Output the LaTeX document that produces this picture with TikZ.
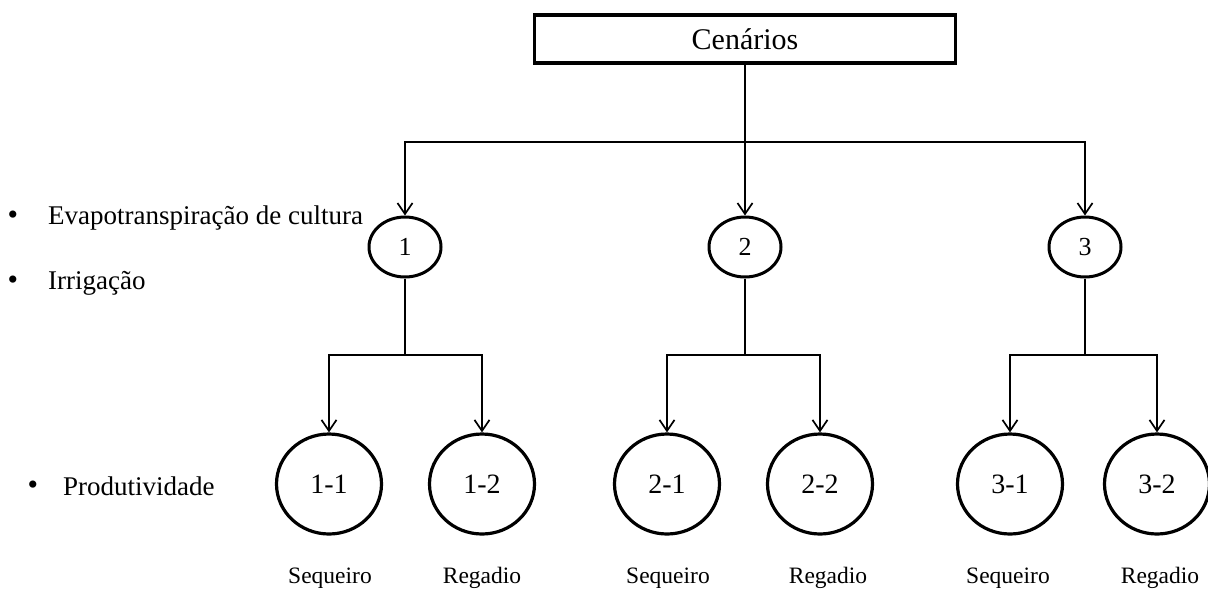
\documentclass[tikz,border=0pt]{standalone}
\usepackage{fontspec}
\setmainfont{Liberation Serif}
\usetikzlibrary{arrows.meta,shapes.geometric}
\begin{document}
\begin{tikzpicture}[x=1pt,y=-1pt,
  conn/.style={line width=1.7pt},
  arr/.style={conn,-{Straight Barb[length=11pt,width=15pt]}},
  topbox/.style={draw,line width=3.4pt,minimum width=421pt,minimum height=48pt,inner sep=0pt,font=\fontsize{30}{34}\selectfont},
  small/.style={draw,ellipse,line width=3pt,minimum width=72pt,minimum height=60pt,inner sep=0pt,font=\fontsize{26}{30}\selectfont},
  big/.style={draw,ellipse,line width=3.2pt,minimum width=105pt,minimum height=100pt,inner sep=0pt,font=\fontsize{28}{30}\selectfont},
  lab/.style={font=\fontsize{23.5}{26}\selectfont,inner sep=0pt},
  side/.style={font=\fontsize{27}{30}\selectfont,inner sep=0pt,anchor=west},
  bul/.style={font=\fontsize{30}{32}\selectfont,inner sep=0pt}
]
\useasboundingbox (0,0) rectangle (1208,590);
\node[topbox] (cen) at (745,39) {Cenários};
\node[small] (c1) at (405,247) {1};
\node[small] (c2) at (745,247) {2};
\node[small] (c3) at (1085,247) {3};
\node[big] (c11) at (329,484) {1-1};
\node[big] (c12) at (482,484) {1-2};
\node[big] (c21) at (667,484) {2-1};
\node[big] (c22) at (820,484) {2-2};
\node[big] (c31) at (1010,484) {3-1};
\node[big] (c32) at (1157,484) {3-2};
\node[lab] (l11) at (330,578) {Sequeiro};
\node[lab] (l12) at (482,578) {Regadio};
\node[lab] (l21) at (668,578) {Sequeiro};
\node[lab] (l22) at (828,578) {Regadio};
\node[lab] (l31) at (1008,578) {Sequeiro};
\node[lab] (l32) at (1160,578) {Regadio};
\node[bul] (b1) at (13,218) {•};
\node[side] (t1) at (48,218) {Evapotranspiração de cultura};
\node[bul] (b2) at (13,283) {•};
\node[side] (t2) at (48,283) {Irrigação};
\node[bul] (b3) at (33,488) {•};
\node[side] (t3) at (63,486) {Produtividade};
\coordinate (j0) at (745,142);
\coordinate (j1) at (405,355);
\coordinate (j2) at (745,355);
\coordinate (j3) at (1085,355);
\draw[conn] (cen) -- (j0);
\draw[arr] (j0) -| (c1.north);
\draw[arr] (j0) -- (c2.north);
\draw[arr] (j0) -| (c3.north);
\draw[conn] (c1) -- (j1);
\draw[conn] (c2) -- (j2);
\draw[conn] (c3) -- (j3);
\draw[arr] (j1) -| (c11.north);
\draw[arr] (j1) -| (c12.north);
\draw[arr] (j2) -| (c21.north);
\draw[arr] (j2) -| (c22.north);
\draw[arr] (j3) -| (c31.north);
\draw[arr] (j3) -| (c32.north);
\end{tikzpicture}
\end{document}
